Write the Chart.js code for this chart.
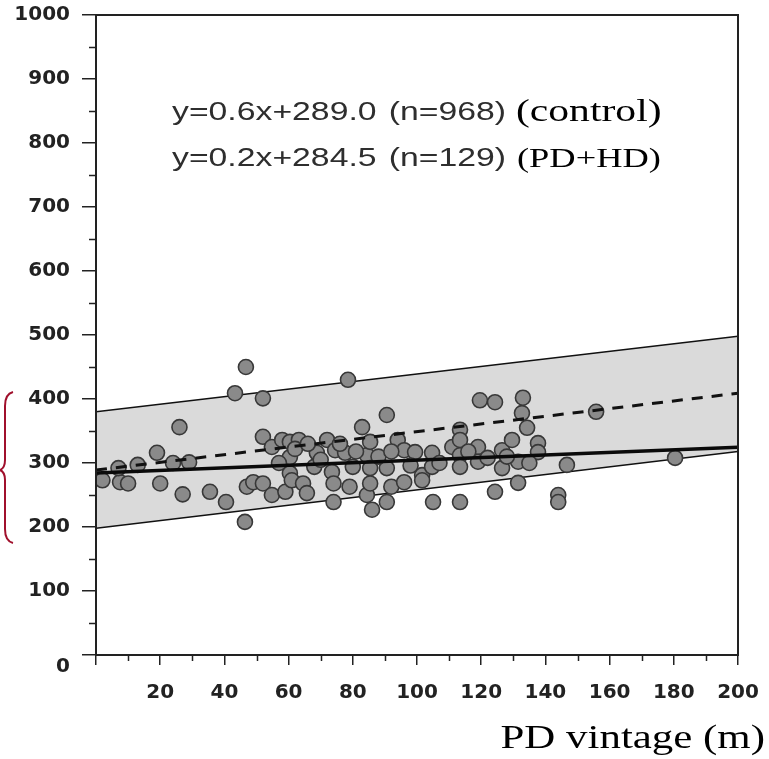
<!DOCTYPE html>
<html>
<head>
<meta charset="utf-8">
<script src="https://cdn.jsdelivr.net/npm/chart.js@4/dist/chart.umd.min.js"></script>
<style>
  html, body { margin: 0; padding: 0; background: #fff; }
  #wrap { width: 769px; height: 759px; position: relative; }
</style>
</head>
<body>
<div id="wrap"><canvas id="c"></canvas></div>
<script>
/* Scatter de pacientes PD+HD vs. meses en PD, con la banda de control
 * y las dos rectas de regresión. Valores leídos a ojo de la figura. */

// puntos (PD vintage en meses, valor)
const vintage = [
  2, 7.5, 10, 7, 13, 19, 20, 24, 26, 27, 29, 35.5, 40.5, 43.3, 46.7, 46.4, 47, 49,
  52, 52, 52, 54.8, 54.8, 58, 59, 60.4, 60.4, 60.4, 61, 63.2, 64.5, 65.7, 68, 68.8,
  72, 73.5, 74, 74, 74.5, 77.6, 78.5, 79, 80, 82.9, 84.4, 84.4, 85.4, 85.4, 85.4, 86,
  90.6, 90.6, 90.6, 92, 94, 96, 96, 99.4, 101.6, 101.6, 104.7, 104.7, 105, 111,
  113.4, 113.4, 113.4, 113.4, 113.4, 119, 119, 119.6, 124.3, 124.3, 126.5, 126.5,
  129.6, 131.5, 131.5, 132.7, 133, 134.3, 137.7, 137.7, 144, 144, 146.7, 155.8, 180.4,
  57, 62, 66, 70, 76, 81, 88, 92, 98, 107, 116, 122, 128, 135,
];
const values = [
  273, 270, 268, 292, 297, 316, 268, 300, 356, 251, 301, 255, 239, 409, 450, 208, 263, 270,
  401, 341, 268, 325, 250, 336, 255, 333, 309, 284, 273, 336, 268, 253, 294, 316,
  336, 286, 268, 239, 320, 316, 430, 263, 294, 356, 312, 250, 333, 292, 268, 227,
  375, 292, 239, 263, 336, 320, 270, 317, 281, 273, 316, 294, 239, 325,
  352, 336, 312, 294, 239, 325, 302, 398, 395, 255, 320, 292,
  336, 302, 269, 378, 402, 355, 331, 317, 250, 239, 297, 380, 308,
  300, 322, 330, 305, 330, 318, 310, 318, 296, 300, 318, 308, 310, 300,
];

// extremos de las rectas (x = 0 y x = 200)
const lineX       = [0, 200];
const bandUpper   = [380, 498];
const bandLower   = [198, 318];
const controlFit  = [289.0, 409.0];   // y=0.6x+289.0
const pdhdFit     = [284.5, 324.5];   // y=0.2x+284.5

const xTicks = [20, 40, 60, 80, 100, 120, 140, 160, 180, 200];
const yTicks = [0, 100, 200, 300, 400, 500, 600, 700, 800, 900, 1000];

const INK = '#222';
const SX = 1.3; // la figura original está estirada en horizontal

const toPts = (ys) => lineX.map((x, i) => ({ x, y: ys[i] }));

/* texto estirado horizontalmente, como en el escaneo */
function stretchText(ctx, text, x, y, font, align, sx) {
  ctx.save();
  ctx.font = font;
  ctx.textAlign = align;
  ctx.textBaseline = 'alphabetic';
  ctx.translate(x, y);
  ctx.scale(sx, 1);
  ctx.fillText(text, 0, 0);
  ctx.restore();
}

/* sin márgenes extra por etiquetas que sobresalen: el área queda fija */
function noOverflow(s) {
  s.paddingLeft = s.paddingRight = s.paddingTop = s.paddingBottom = 0;
}

const decor = {
  id: 'decor',
  afterDraw(chart) {
    const { ctx, chartArea: a, scales: { x, y } } = chart;
    ctx.save();

    // marco completo
    ctx.strokeStyle = INK;
    ctx.lineWidth = 2;
    ctx.strokeRect(a.left, a.top, a.right - a.left, a.bottom - a.top);

    // ticks menores
    ctx.lineWidth = 1.5;
    ctx.beginPath();
    for (let v = 50; v < 1000; v += 100) {
      const py = Math.round(y.getPixelForValue(v)) + 0.5;
      ctx.moveTo(a.left - 7, py); ctx.lineTo(a.left, py);
    }
    for (let v = 10; v < 200; v += 20) {
      const px = Math.round(x.getPixelForValue(v)) + 0.5;
      ctx.moveTo(px, a.bottom); ctx.lineTo(px, a.bottom + 6);
    }
    ctx.stroke();

    // ecuaciones
    ctx.fillStyle = '#2e2e2e';
    stretchText(ctx, 'y=0.6x+289.0', 172, 120, '25px "Liberation Sans"', 'left', 1.35);
    stretchText(ctx, '(n=968)', 506, 120, '25px "Liberation Sans"', 'right', 1.35);
    stretchText(ctx, 'y=0.2x+284.5', 172, 166, '25px "Liberation Sans"', 'left', 1.35);
    stretchText(ctx, '(n=129)', 506, 166, '25px "Liberation Sans"', 'right', 1.35);

    ctx.fillStyle = '#000';
    stretchText(ctx, '(control)', 516, 121, '32px "Liberation Serif"', 'left', SX);
    stretchText(ctx, '(PD+HD)', 517, 167, '28px "Liberation Serif"', 'left', SX);
    stretchText(ctx, 'PD vintage (m)', 765, 748, '33px "Liberation Serif"', 'right', SX);

    // llave roja a la izquierda
    const t = y.getPixelForValue(411), m = y.getPixelForValue(289), b = y.getPixelForValue(175);
    ctx.strokeStyle = '#a0102c';
    ctx.lineWidth = 2;
    ctx.beginPath();
    ctx.moveTo(13, t);
    ctx.quadraticCurveTo(5, t + 2, 5, t + 14);
    ctx.lineTo(5, m - 10);
    ctx.quadraticCurveTo(5, m - 2, 0, m);
    ctx.quadraticCurveTo(5, m + 2, 5, m + 10);
    ctx.lineTo(5, b - 14);
    ctx.quadraticCurveTo(5, b - 2, 13, b);
    ctx.stroke();

    ctx.restore();
  },
};

new Chart(document.getElementById('c'), {
  type: 'scatter',
  data: {
    datasets: [
      {
        label: 'upper',
        data: toPts(bandUpper),
        showLine: true, fill: '+1',
        borderColor: '#111', borderWidth: 1.4,
        backgroundColor: '#dadada',
        pointRadius: 0, order: 10,
      },
      {
        label: 'lower',
        data: toPts(bandLower),
        showLine: true, fill: false,
        borderColor: '#111', borderWidth: 1.4,
        pointRadius: 0, order: 9,
      },
      {
        label: 'PD+HD',
        data: vintage.map((v, i) => ({ x: v, y: values[i] })),
        pointRadius: 7.5,
        pointBackgroundColor: '#8a8a8a',
        pointBorderColor: '#383838',
        pointBorderWidth: 1.6,
        order: 5,
      },
      {
        label: 'control fit',
        data: toPts(controlFit),
        showLine: true, fill: false,
        borderColor: '#111', borderWidth: 3, borderDash: [11, 9],
        pointRadius: 0, order: 2,
      },
      {
        label: 'PD+HD fit',
        data: toPts(pdhdFit),
        showLine: true, fill: false,
        borderColor: '#0a0a0a', borderWidth: 3.5,
        pointRadius: 0, order: 1,
      },
    ],
  },
  options: {
    responsive: true, maintainAspectRatio: false,
    animation: false,
    layout: { padding: { top: 15, right: 31, left: 0, bottom: 0 } },
    plugins: { legend: { display: false }, tooltip: { enabled: false } },
    scales: {
      x: {
        type: 'linear', min: 0, max: 200,
        afterFit: (s) => { s.height = 104; noOverflow(s); },
        afterBuildTicks: (s) => { s.ticks = [0, ...xTicks].map(v => ({ value: v })); },
        border: { display: true, color: INK, width: 2 },
        grid: { drawOnChartArea: false, tickLength: 10, color: INK, lineWidth: 1.5 },
        ticks: {
          color: INK, padding: 16,
          font: { family: 'DejaVu Sans', size: 20, weight: 'bold' },
          callback: (v) => v === 0 ? '' : v,
          maxRotation: 0, autoSkip: false,
        },
      },
      y: {
        type: 'linear', min: 0, max: 1000,
        afterFit: (s) => { s.width = 96; noOverflow(s); },
        afterBuildTicks: (s) => { s.ticks = yTicks.map(v => ({ value: v })); },
        border: { display: true, color: INK, width: 2 },
        grid: { drawOnChartArea: false, tickLength: 14, color: INK, lineWidth: 1.5 },
        ticks: {
          color: INK, padding: 12,
          font: { family: 'DejaVu Sans', size: 20, weight: 'bold' },
          // el "0" va un poco más abajo que su tick
          callback: (v) => v === 0 ? ['', '0'] : v,
          autoSkip: false,
        },
      },
    },
  },
  plugins: [decor],
});
</script>
</body>
</html>
